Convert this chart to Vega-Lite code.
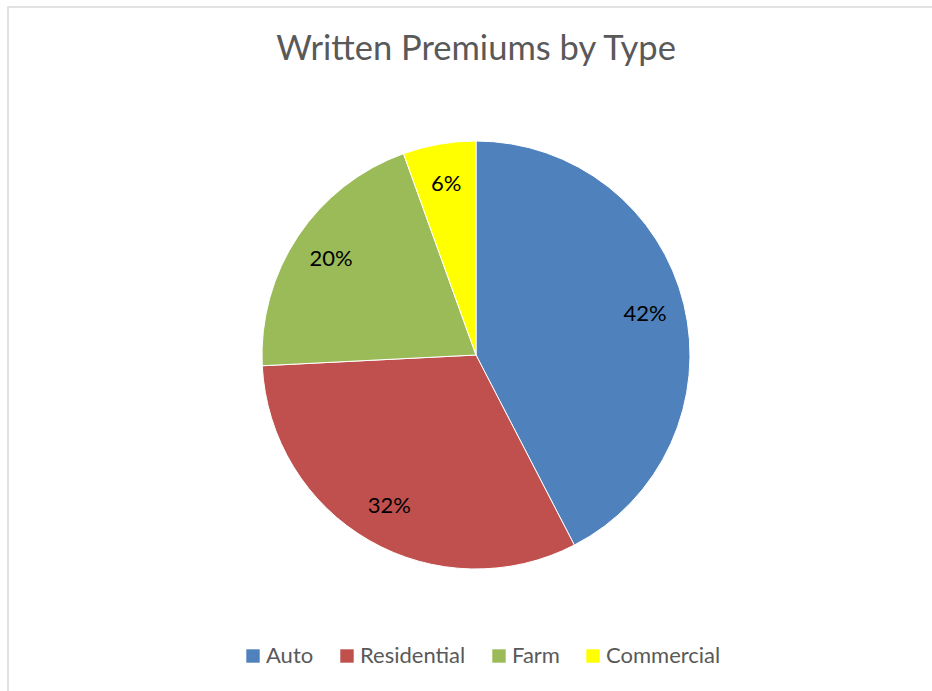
{
  "$schema": "https://vega.github.io/schema/vega-lite/v6.json",
  "width": 936,
  "height": 696,
  "autosize": "none",
  "padding": {"left": 8, "top": 7, "right": -12, "bottom": -12},
  "background": "white",
  "view": {"stroke": "#D9D9D9", "strokeWidth": 1.5, "fill": "white"},
  "title": {"text": "Written Premiums by Type", "font": "Lato", "fontSize": 34.5, "fontWeight": "normal", "color": "#595959", "offset": -87, "baseline": "alphabetic", "anchor": "middle"},
  "data": {"values": [
    {"type": "Auto", "value": 42.4, "label": "42%", "order": 1},
    {"type": "Residential", "value": 31.8, "label": "32%", "order": 2},
    {"type": "Farm", "value": 20.3, "label": "20%", "order": 3},
    {"type": "Commercial", "value": 5.5, "label": "6%", "order": 4}
  ]},
  "encoding": {
    "theta": {"field": "value", "type": "quantitative", "stack": true},
    "order": {"field": "order", "type": "quantitative"}
  },
  "layer": [
    {
      "mark": {"type": "arc", "outerRadius": 214, "stroke": "white", "strokeWidth": 1},
      "encoding": {
        "color": {
          "field": "type", "type": "nominal",
          "scale": {"domain": ["Auto", "Residential", "Farm", "Commercial"], "range": ["#4F81BD", "#C0504D", "#9BBB59", "#FFFF00"]},
          "legend": {"orient": "none", "legendX": 234, "legendY": 638, "direction": "horizontal", "title": null, "symbolType": "square", "symbolSize": 180, "symbolStrokeWidth": 0, "symbolOpacity": 1, "labelFont": "Lato", "labelFontSize": 22, "labelColor": "#595959", "columnPadding": 22, "labelOffset": 2}
        }
      }
    },
    {
      "mark": {"type": "text", "radius": 174, "font": "Lato", "fontSize": 22, "color": "black"},
      "encoding": {"text": {"field": "label", "type": "nominal"}}
    }
  ]
}
